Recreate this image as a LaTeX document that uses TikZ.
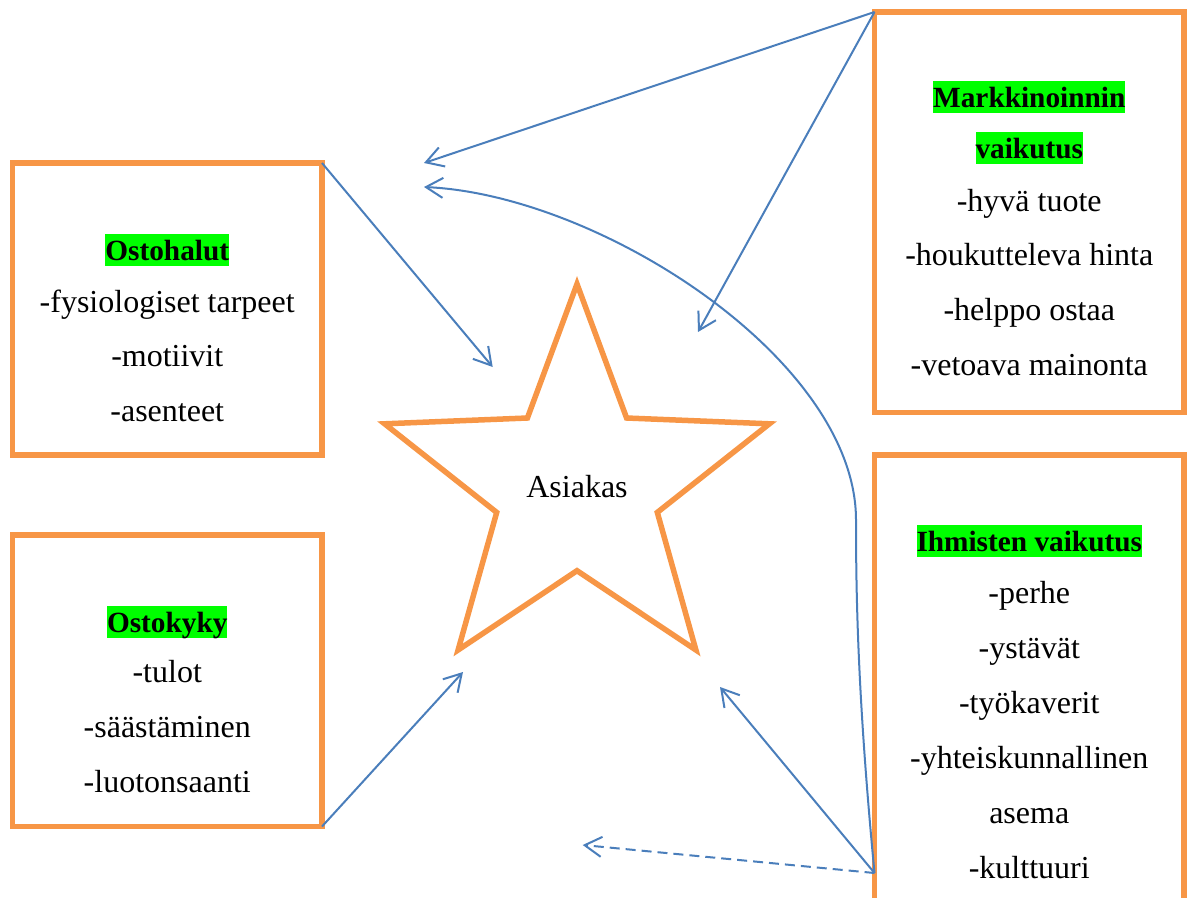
\documentclass[tikz,border=0pt]{standalone}
\usepackage{fontspec}
\setmainfont{Liberation Serif}
\usetikzlibrary{arrows.meta}
\definecolor{boxorange}{HTML}{F79646}
\definecolor{linkblue}{HTML}{4A7EBB}
\definecolor{hlgreen}{HTML}{00FF00}
\newcommand\hltitle[1]{{\fontsize{29.3}{35}\selectfont\setlength\fboxsep{0pt}\colorbox{hlgreen}{\vrule height 0.9em depth 0.22em width 0pt\textbf{#1}}}}
\begin{document}
\begin{tikzpicture}[x=1pt,y=-1pt,
  box/.style={draw=boxorange, line width=5.5pt, rectangle, inner sep=0pt, outer sep=0pt},
  txt/.style={anchor=base, inner sep=0pt, font=\fontsize{32}{38}\selectfont},
  link/.style={draw=linkblue, line width=2pt, -{Straight Barb[length=17pt,width=20pt]}},
  ]
\useasboundingbox (0,0) rectangle (1193,897);
\clip (0,0) rectangle (1193,897);

% boxes
\node[box, minimum width=309.5pt, minimum height=292pt] (halut) at (167.25,309) {};
\node[box, minimum width=309.5pt, minimum height=291.5pt] (kyky) at (167.25,680.75) {};
\node[box, minimum width=309.5pt, minimum height=400.5pt] (markk) at (1029.25,212.25) {};
\node[box, minimum width=309.5pt, minimum height=485pt] (ihm) at (1029.25,697.5) {};

% star
\draw[draw=boxorange, line width=5.5pt, miter limit=10] (577,284) -- (626.6,418) -- (769.4,423.8) -- (657.3,512.4) -- (695.9,650) -- (577,570.7) -- (458.1,650) -- (496.7,512.4) -- (384.6,423.8) -- (527.4,418) -- cycle;
\node[txt] (asiakas) at (577,497) {Asiakas};

% Ostohalut
\node[txt] (h0) at (167.25,260) {\hltitle{Ostohalut}};
\node[txt] (h1) at (167.25,312) {-fysiologiset tarpeet};
\node[txt] (h2) at (167.25,366) {-motiivit};
\node[txt] (h3) at (167.25,421) {-asenteet};

% Ostokyky
\node[txt] (k0) at (167.25,632) {\hltitle{Ostokyky}};
\node[txt] (k1) at (167.25,682) {-tulot};
\node[txt] (k2) at (167.25,737) {-säästäminen};
\node[txt] (k3) at (167.25,792) {-luotonsaanti};

% Markkinoinnin vaikutus
\node[txt] (m0) at (1029.25,107) {\hltitle{Markkinoinnin}};
\node[txt] (m1) at (1029.25,158) {\hltitle{vaikutus}};
\node[txt] (m2) at (1029.25,211) {-hyvä tuote};
\node[txt] (m3) at (1029.25,265) {-houkutteleva hinta};
\node[txt] (m4) at (1029.25,320) {-helppo ostaa};
\node[txt] (m5) at (1029.25,375) {-vetoava mainonta};

% Ihmisten vaikutus
\node[txt] (i0) at (1029.25,551) {\hltitle{Ihmisten vaikutus}};
\node[txt] (i1) at (1029.25,603) {-perhe};
\node[txt] (i2) at (1029.25,658) {-ystävät};
\node[txt] (i3) at (1029.25,713) {-työkaverit};
\node[txt] (i4) at (1029.25,768) {-yhteiskunnallinen};
\node[txt] (i5) at (1029.25,823) {asema};
\node[txt] (i6) at (1029.25,878) {-kulttuuri};

% connector ends
\coordinate (mkc) at (markk.north west);
\coordinate (ihc) at ([yshift=-418pt]ihm.north west);
\coordinate (t1) at (424,163);
\coordinate (t2) at (698,332);
\coordinate (t3) at (492.7,367);
\coordinate (t4) at (463,672);
\coordinate (t5) at (720,687);
\coordinate (t6) at (582.7,845);
\coordinate (t7) at (424,187);

\draw[link] (mkc) -- (t1);
\draw[link] (mkc) -- (t2);
\draw[link] (halut.north east) -- (t3);
\draw[link] (kyky.south east) -- (t4);
\draw[link] (ihc) -- (t5);
\draw[link, dash pattern=on 10pt off 6pt] (ihc) -- (t6);
\draw[link] (ihc) .. controls (858,700) and (856,600) .. (856,520) .. controls (856,360) and (600,195) .. (t7);
\end{tikzpicture}
\end{document}
